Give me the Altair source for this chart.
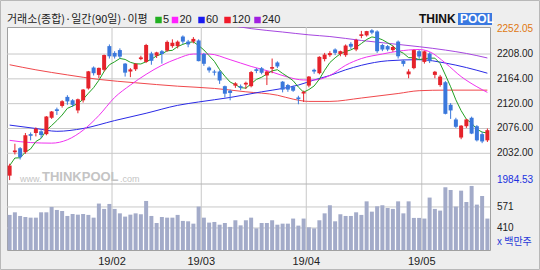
import altair as alt
import pandas as pd

# ---------------- data ----------------
month_labels = ["19/02", "19/03", "19/04", "19/05"]
month_start = [20, 37, 57, 79]

opens = [
    1992.4, 2034, 2041, 2034, 2066, 2068, 2071, 2066, 2095, 2110,
    2116, 2132, 2126, 2108, 2126, 2147, 2184, 2171, 2180, 2222,
    2210, 2215, 2191, 2177, 2181, 2199, 2194, 2209, 2205, 2213,
    2214, 2222, 2222, 2239, 2230, 2230, 2232, 2208, 2184, 2177,
    2177, 2151, 2143, 2152, 2151, 2154, 2151, 2181, 2183, 2170,
    2182, 2193, 2159, 2153, 2150, 2131, 2138, 2152, 2180, 2174,
    2199, 2206, 2216, 2208, 2206, 2226, 2216, 2240, 2241, 2250,
    2248, 2224, 2222, 2215, 2230, 2196, 2172, 2183, 2213, 2194,
    2209, 2171, 2153, 2158, 2118, 2092, 2060, 2080, 2095, 2080,
    2066, 2055]
highs = [
    2013.5, 2049, 2043, 2068, 2069, 2078, 2073, 2098, 2107, 2113,
    2126, 2135, 2128, 2129, 2146, 2178, 2186, 2184, 2207, 2225,
    2213, 2218, 2192, 2183, 2192, 2205, 2226, 2212, 2212, 2215,
    2232, 2234, 2232, 2241, 2233, 2238, 2234, 2210, 2186, 2180,
    2179, 2152, 2145, 2158, 2154, 2159, 2178, 2183, 2185, 2178,
    2200, 2195, 2160, 2155, 2152, 2134, 2143, 2169, 2182, 2204,
    2210, 2213, 2218, 2214, 2225, 2229, 2235, 2249, 2249, 2252.05,
    2250, 2226, 2224, 2223, 2232, 2198, 2181, 2216, 2215, 2214,
    2211, 2178, 2171, 2160, 2121, 2095, 2082, 2093, 2097, 2082,
    2070, 2076]
lows = [
    1984.53, 2030, 2021, 2031, 2055, 2062, 2059, 2064, 2093, 2100,
    2113, 2118, 2114, 2103, 2122, 2145, 2170, 2165, 2177, 2200,
    2200, 2200, 2168, 2167, 2178, 2197, 2192, 2189, 2201, 2191,
    2212, 2219, 2218, 2226, 2220, 2227, 2195, 2187, 2175, 2170,
    2155, 2131, 2126, 2148, 2144, 2146, 2149, 2174, 2172, 2153,
    2174, 2183, 2140, 2141, 2141, 2119, 2123, 2149, 2173, 2172,
    2195, 2203, 2206, 2204, 2203, 2217, 2213, 2236, 2239, 2243,
    2210, 2213, 2213, 2212, 2200, 2186, 2165, 2181, 2199, 2191,
    2192, 2165, 2150, 2101, 2093, 2077, 2057, 2077, 2066, 2053,
    2050, 2052]
closes = [
    2010.3, 2037, 2025, 2064, 2063, 2075.6, 2064.5, 2097.2, 2106.1, 2107,
    2124.3, 2124, 2118, 2127.8, 2145, 2177.3, 2174, 2183.4, 2206.2, 2204,
    2203.5, 2203.4, 2175, 2180.7, 2190.7, 2202, 2224, 2196, 2210.9, 2208,
    2229.5, 2228, 2229.9, 2230, 2225, 2234.8, 2195.4, 2190.7, 2179, 2175,
    2161, 2137.7, 2139, 2156, 2148, 2157, 2176, 2178, 2175, 2177,
    2184.9, 2186, 2144.9, 2145, 2143, 2128, 2141, 2168, 2177, 2203,
    2207, 2209.6, 2210, 2213, 2223, 2221, 2233, 2243, 2248.6, 2245.9,
    2213, 2216, 2216, 2220.5, 2204, 2190.5, 2177, 2215, 2203.6, 2212.8,
    2195.3, 2176.6, 2168, 2102, 2108, 2079, 2081, 2092, 2067, 2055,
    2053, 2073]
volumes = [
    510, 530, 502, 494, 489, 489, 530, 530, 571, 548,
    540, 502, 517, 512, 517, 510, 489, 597, 556, 594,
    556, 522, 497, 512, 522, 515, 617, 502, 448, 494,
    489, 489, 510, 464, 461, 443, 574, 489, 451, 456,
    435, 448, 418, 469, 430, 469, 489, 407, 448, 448,
    469, 435, 443, 443, 482, 428, 482, 415, 407, 469,
    522, 584, 461, 515, 502, 502, 530, 510, 614, 535,
    576, 584, 563, 556, 614, 522, 614, 487, 487, 482,
    643, 556, 543, 722, 701, 574, 696, 609, 732, 589,
    655, 482]

ma20_idx = [0, 4, 8, 11, 14, 17, 20, 23, 26, 29, 32, 35, 38, 42, 46, 50, 53, 56, 58, 61, 64, 67, 71, 74, 78, 80, 83, 86, 89, 91]
ma20_val = [2055, 2051, 2050, 2056, 2073, 2099, 2131, 2153, 2172, 2188, 2200, 2208, 2208, 2198, 2186, 2176, 2167, 2162, 2162, 2170, 2188, 2200, 2208, 2213, 2216, 2212, 2192, 2168, 2150, 2140]
ma60_idx = [0, 5, 9, 14, 20, 26, 32, 36, 42, 48, 52, 55, 58, 61, 64, 67, 72, 78, 83, 87, 91]
ma60_val = [2082, 2076, 2071, 2076, 2090, 2103, 2117, 2123, 2131, 2141, 2147, 2153, 2162, 2170, 2180, 2188, 2196, 2198, 2192, 2184, 2174]
ma120_idx = [0, 5, 11, 17, 24, 32, 39, 45, 51, 54, 57, 61, 67, 74, 78, 83, 91]
ma120_val = [2189, 2180, 2171, 2163, 2157, 2151, 2147, 2141, 2135, 2128, 2124, 2124, 2130, 2138, 2143, 2144, 2144]
ma240_idx = [40, 46, 52, 57, 61, 67, 74, 78, 83, 87, 91]
ma240_val = [2262, 2253, 2247, 2242, 2239, 2232, 2225, 2221, 2215, 2209, 2201]

price_ticks = [2032, 2076, 2120, 2164, 2208]
price_max_label = [2252.05]
price_min_label = [1984.53]
vol_ticks = [410, 571]

# ---------------- styling ----------------
W, H = 483, 223
PANE = 157
UP, DOWN = "#e5232b", "#3a78dc"
VOLC = "#a3abc9"
GRID = "#c8c8c8"
FONT_NUM = "Liberation Sans"
FONT_KR = "Noto Sans CJK KR"

xs = alt.Scale(domain=[0, 92], nice=False, zero=False)
ps = alt.Scale(domain=[1977.6, 2255.9], range=[PANE, 0], nice=False, zero=False)
vs = alt.Scale(domain=[241, 747], range=[H, PANE], nice=False, zero=False)

df = pd.DataFrame({"i": list(range(len(closes))), "open": opens, "high": highs,
                   "low": lows, "close": closes, "vol": volumes})

base = alt.Chart(df).transform_calculate(
    xc="datum.i + 0.5", xl="datum.i + 0.12", xr="datum.i + 0.88",
    dir="datum.close >= datum.open ? 'up' : 'down'")
col = alt.Color("dir:N", scale=alt.Scale(domain=["up", "down"], range=[UP, DOWN]), legend=None)

one = pd.DataFrame({"a": [0]})


def note(text, x, y, size=11, color="#222", font=FONT_KR, weight="normal", align="left"):
    return alt.Chart(one).mark_text(text=text, align=align, baseline="middle", fontSize=size,
                                    color=color, font=font, fontWeight=weight).encode(
        x=alt.value(x), y=alt.value(y))


layers = []

# gridlines
layers.append(alt.Chart(pd.DataFrame({"v": price_ticks})).mark_rule(color=GRID, strokeWidth=1).encode(
    y=alt.Y("v:Q", scale=ps, axis=None)))
layers.append(alt.Chart(pd.DataFrame({"v": vol_ticks})).mark_rule(color=GRID, strokeWidth=1).encode(
    y=alt.Y("v:Q", scale=vs, axis=None)))
layers.append(alt.Chart(pd.DataFrame({"m": month_start})).mark_rule(color=GRID, strokeWidth=1).encode(
    x=alt.X("m:Q", scale=xs, axis=None)))
layers.append(alt.Chart(one).mark_rule(color="#b4b4b4", strokeWidth=1).encode(y=alt.value(PANE)))

# watermark
layers.append(note("www.", 13, 152, size=9, color="#c4c4c4", font=FONT_NUM))
layers.append(note("THINKPOOL", 35, 150, size=13, color="#c4c4c4", font=FONT_NUM, weight="bold"))
layers.append(note(".com", 113, 152, size=9, color="#c4c4c4", font=FONT_NUM))

# volume bars
layers.append(base.mark_bar(color=VOLC).encode(
    x=alt.X("xl:Q", scale=xs, axis=None), x2="xr:Q",
    y=alt.Y("vol:Q", scale=vs, axis=None), y2=alt.value(H)))

# moving averages
for idx, val, c in [(ma240_idx, ma240_val, "#a646e0"), (ma120_idx, ma120_val, "#f0484c"),
                    (ma60_idx, ma60_val, "#2a2ae6"), (ma20_idx, ma20_val, "#f032f0")]:
    mdf = pd.DataFrame({"i": idx, "v": val})
    layers.append(alt.Chart(mdf).transform_calculate(xc="datum.i + 0.5").mark_line(
        color=c, strokeWidth=1, interpolate="monotone", clip=True).encode(
        x=alt.X("xc:Q", scale=xs, axis=None), y=alt.Y("v:Q", scale=ps, axis=None)))

layers.append(base.transform_window(ma5="mean(close)", frame=[-4, 0], sort=[alt.SortField("i")]).mark_line(
    color="#22a022", strokeWidth=1).encode(
    x=alt.X("xc:Q", scale=xs, axis=None), y=alt.Y("ma5:Q", scale=ps, axis=None)))

# candles
layers.append(base.mark_rule(strokeWidth=1).encode(
    x=alt.X("xc:Q", scale=xs, axis=None), y=alt.Y("low:Q", scale=ps, axis=None), y2="high:Q", color=col))
layers.append(base.mark_bar().encode(
    x=alt.X("xl:Q", scale=xs, axis=None), x2="xr:Q",
    y=alt.Y("open:Q", scale=ps, axis=None), y2="close:Q", color=col))

# right-hand labels
layers.append(alt.Chart(pd.DataFrame({"v": price_ticks})).mark_text(
    align="left", baseline="middle", fontSize=10, font=FONT_NUM, color="#222").encode(
    x=alt.value(W + 7), y=alt.Y("v:Q", scale=ps, axis=None), text=alt.Text("v:Q", format=".2f")))
layers.append(alt.Chart(pd.DataFrame({"v": price_max_label})).mark_text(
    align="left", baseline="middle", fontSize=10, font=FONT_NUM, color="#e07810").encode(
    x=alt.value(W + 7), y=alt.Y("v:Q", scale=ps, axis=None), text=alt.Text("v:Q", format=".2f")))
layers.append(alt.Chart(pd.DataFrame({"v": price_min_label})).mark_text(
    align="left", baseline="middle", fontSize=10, font=FONT_NUM, color="#2030e0").encode(
    x=alt.value(W + 7), y=alt.Y("v:Q", scale=ps, axis=None), text=alt.Text("v:Q", format=".2f")))
layers.append(alt.Chart(pd.DataFrame({"v": vol_ticks})).mark_text(
    align="left", baseline="middle", fontSize=10, font=FONT_NUM, color="#222").encode(
    x=alt.value(W + 7), y=alt.Y("v:Q", scale=vs, axis=None), text=alt.Text("v:Q", format="d")))
layers.append(note("x 백만주", W + 7, 215, size=10, color="#2a3ad8"))

# month labels
layers.append(alt.Chart(pd.DataFrame({"m": month_start, "t": month_labels})).mark_text(
    align="center", baseline="middle", fontSize=11, font=FONT_NUM, color="#222").encode(
    x=alt.X("m:Q", scale=xs, axis=None), y=alt.value(H + 12), text="t:N"))

# title + MA legend
layers.append(note("거래소(종합)·일간(90일)·이평", 0, -7, size=11))
leg = [("#22b022", "5", 151.5), ("#ff22ff", "20", 168), ("#1a1af0", "60", 194.5),
       ("#f01a2a", "120", 220.5), ("#a020e0", "240", 250.5)]
for c, t, x in leg:
    layers.append(alt.Chart(one).mark_square(size=42, color=c, opacity=1).encode(
        x=alt.value(x), y=alt.value(-7)))
    layers.append(note(t, x + 4.5, -7, size=11, font=FONT_NUM))

# logo
layers.append(alt.Chart(one).mark_rect(color="#3a78e0").encode(
    x=alt.value(451), x2=alt.value(485), y=alt.value(-14), y2=alt.value(-2)))
layers.append(note("THINK", 412, -8, size=12, font=FONT_NUM, weight="bold", color="#111"))
layers.append(note("POOL", 453, -8, size=12, font=FONT_NUM, weight="bold", color="white"))

# outer frame
layers.append(alt.Chart(one).mark_rect(fillOpacity=0, stroke="#b8b8b8", strokeWidth=1).encode(
    x=alt.value(-6.5), x2=alt.value(532.5), y=alt.value(-26.5), y2=alt.value(242.5)))

chart = alt.layer(*layers).resolve_scale(y="independent").properties(
    width=W, height=H, background="#eeeeee",
    padding={"left": 7, "top": 27, "right": 50, "bottom": 20},
    autosize=alt.AutoSizeParams(type="none"),
).configure_view(fill="white", stroke="#a0a0a0")

chart.save("out.html", embed_options={"renderer": "svg", "actions": False})
